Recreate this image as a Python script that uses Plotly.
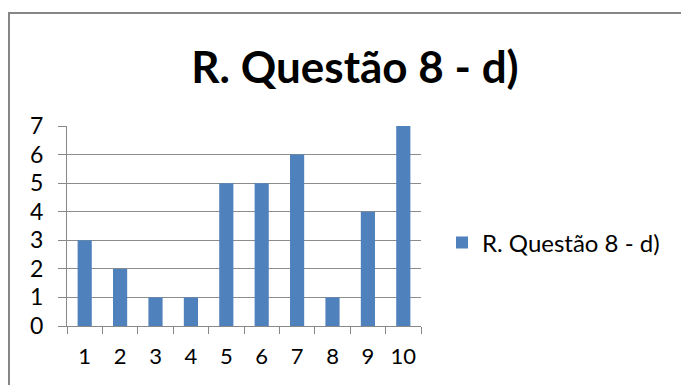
import plotly.graph_objects as go

categories = ["1", "2", "3", "4", "5", "6", "7", "8", "9", "10"]
values = [3, 2, 1, 1, 5, 5, 6, 1, 4, 7]
series_name = "R. Questão 8 - d)"
title_text = "R. Questão 8 - d)"

FONT = "Lato, Open Sans, sans-serif"

fig = go.Figure()
fig.add_trace(go.Bar(
    x=categories, y=values, name=series_name,
    marker=dict(color="#4F81BD", line=dict(width=0)),
    showlegend=True,
))

fig.update_layout(
    width=681, height=385,
    margin=dict(l=67, r=260, t=126, b=59, autoexpand=False),
    paper_bgcolor="white", plot_bgcolor="white",
    bargap=0.6,
    font=dict(family=FONT, color="#000000"),
    title=dict(text="<b>" + title_text + "</b>", x=355/681, xanchor="center",
               y=1-68/385, yanchor="middle", yref="container",
               font=dict(size=44, family=FONT, color="#000")),
    showlegend=True,
    legend=dict(x=442/681, xref="container", y=1-243/385, yref="container",
                xanchor="left", yanchor="middle",
                font=dict(size=24, family=FONT, color="#000"),
                itemwidth=30, bgcolor="rgba(0,0,0,0)"),
    xaxis=dict(type="category", showgrid=False, showline=True,
               linecolor="#888888", linewidth=1, automargin=False,
               ticks="outside", tickson="boundaries", ticklen=7,
               tickcolor="#888888", tickangle=0,
               tickfont=dict(size=22, family=FONT, color="#000"),
               ticklabelstandoff=11),
    yaxis=dict(range=[0, 7], dtick=1, showgrid=True, gridcolor="#8c8c8c",
               gridwidth=1, showline=True, linecolor="#888888", linewidth=1,
               automargin=False,
               ticks="outside", ticklen=8, tickcolor="#888888",
               tickfont=dict(size=23, family=FONT, color="#000"),
               ticklabelstandoff=10, zeroline=False),
    shapes=[dict(type="rect", xref="paper", yref="paper",
                 x0=-58/354, x1=(700-67)/354, y0=-(400-326)/200, y1=1+(126-13)/200,
                 line=dict(color="#868686", width=2), fillcolor="rgba(0,0,0,0)",
                 layer="below")],
)

fig.write_html("out.html", config={"displayModeBar": False},
               post_script="document.body.style.margin='0';document.body.style.overflow='hidden';")
